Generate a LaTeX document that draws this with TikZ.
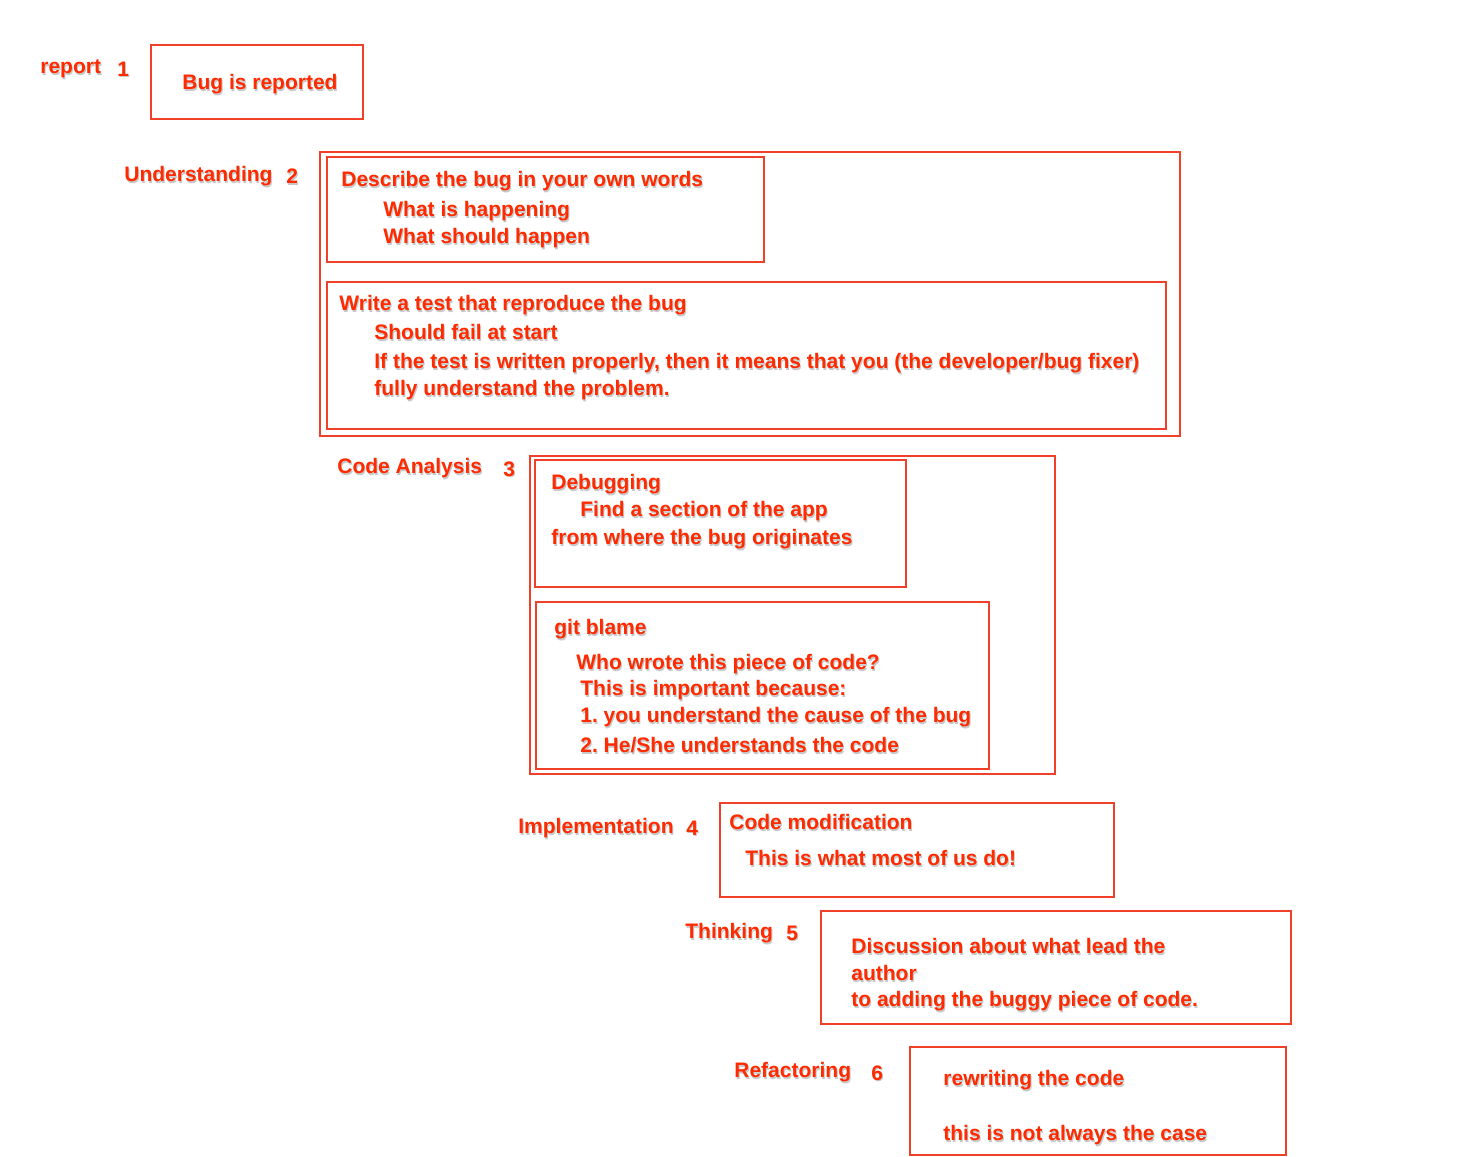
\documentclass[tikz,border=0pt]{standalone}
\usepackage{fontspec}
\setmainfont{Liberation Sans}
\definecolor{txtred}{HTML}{FF2A00}
\definecolor{boxred}{HTML}{F0402A}
\definecolor{shgray}{HTML}{C8C8C8}
\newcommand\sh[1]{\rlap{\hspace{0.5pt}\raisebox{-0.7pt}{\textcolor{shgray}{#1}}}#1}
\begin{document}
\frenchspacing
\begin{tikzpicture}[x=0.5pt,y=-0.5pt,
  box/.style={draw=boxred,line width=0.55pt},
  txt/.style={anchor=west,inner sep=0pt,text=txtred,font=\fontsize{10.5}{12}\selectfont\bfseries\frenchspacing},
  ctxt/.style={anchor=center,inner sep=0pt,text=txtred,font=\fontsize{10.5}{12}\selectfont\bfseries}]
\useasboundingbox (0,0) rectangle (1458,1157);
% boxes
\draw[box] (151,45) rectangle (363,119);
\draw[box] (320,152) rectangle (1180,436);
\draw[box] (327,157) rectangle (764,262);
\draw[box] (327,282) rectangle (1166,429);
\draw[box] (530,456) rectangle (1055,774);
\draw[box] (535,460) rectangle (906,587);
\draw[box] (536,602) rectangle (989,769);
\draw[box] (720,803) rectangle (1114,897);
\draw[box] (821,911) rectangle (1291,1024);
\draw[box] (910,1047) rectangle (1286,1155);
% labels
\node[txt] (l1) at (40,70) {\sh{report}};
\node[txt] (n1) at (117,70) {\sh{1}};
\node[ctxt] (t1) at (260,85) {\sh{Bug is reported}};
\node[txt] (l2) at (124,177) {\sh{Understanding}};
\node[txt] (n2) at (286,177) {\sh{2}};
\node[txt] (a1) at (341,182) {\sh{Describe the bug in your own words}};
\node[txt] (a2) at (383,212) {\sh{What is happening}};
\node[txt] (a3) at (383,239) {\sh{What should happen}};
\node[txt] (b1) at (339,306) {\sh{Write a test that reproduce the bug}};
\node[txt] (b2) at (374,333) {\sh{Should fail at start}};
\node[txt] (b3) at (374,364) {\sh{If the test is written properly, then it means that you (the developer/bug fixer)}};
\node[txt] (b4) at (374,391) {\sh{fully understand the problem.}};
\node[txt] (l3) at (337,469) {\sh{Code Analysis}};
\node[txt] (n3) at (503,470) {\sh{3}};
\node[txt] (c1) at (551,485) {\sh{Debugging}};
\node[txt] (c2) at (580,512) {\sh{Find a section of the app}};
\node[txt] (c3) at (551,540) {\sh{from where the bug originates}};
\node[txt] (d1) at (554,630) {\sh{git blame}};
\node[txt] (d2) at (576,665) {\sh{Who wrote this piece of code?}};
\node[txt] (d3) at (580,691) {\sh{This is important because:}};
\node[txt] (d4) at (580,718) {\sh{1. you understand the cause of the bug}};
\node[txt] (d5) at (580,746) {\sh{2. He/She understands the code}};
\node[txt] (l4) at (518,829) {\sh{Implementation}};
\node[txt] (n4) at (686,829) {\sh{4}};
\node[txt] (e1) at (729,823) {\sh{Code modification}};
\node[txt] (e2) at (745,859) {\sh{This is what most of us do!}};
\node[txt] (l5) at (685,934) {\sh{Thinking}};
\node[txt] (n5) at (786,934) {\sh{5}};
\node[txt] (f1) at (851,947) {\sh{Discussion about what lead the}};
\node[txt] (f2) at (851,974) {\sh{author}};
\node[txt] (f3) at (851,1002) {\sh{to adding the buggy piece of code.}};
\node[txt] (l6) at (734,1073) {\sh{Refactoring}};
\node[txt] (n6) at (871,1074) {\sh{6}};
\node[txt] (g1) at (943,1081) {\sh{rewriting the code}};
\node[txt] (g2) at (943,1136) {\sh{this is not always the case}};
\end{tikzpicture}
\end{document}
